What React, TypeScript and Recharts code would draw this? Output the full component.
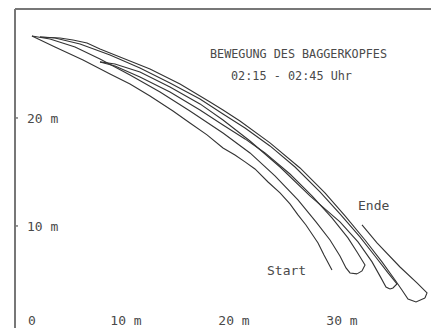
import { LineChart, Line, XAxis, YAxis } from "recharts";

// Bahn des Baggerkopfes, in Metern (x, y), Reihenfolge wie gefahren
const strandStart: [number, number][] = [
  [29.35, 5.93], [28.61, 7.31], [28.06, 8.43], [26.94, 10.09], [26.2, 11.02],
  [25.46, 12.04], [24.54, 13.06], [23.43, 14.07], [22.22, 15.28], [21.3, 15.93],
  [20.37, 16.57], [19.26, 17.22], [17.78, 18.43], [16.2, 19.54], [14.63, 20.65],
  [12.5, 22.04], [10.65, 23.15], [8.8, 24.07], [6.3, 25.37], [3.7, 26.57], [1.57, 27.59],
];
const strandDown1: [number, number][] = [
  [1.57, 27.59], [3.24, 27.31], [5.56, 26.57], [7.87, 25.46], [10.65, 23.98],
  [13.43, 22.41], [16.2, 20.65], [19.26, 18.61], [21.76, 16.76], [24.07, 14.63],
  [26.2, 12.41], [27.87, 10.37], [29.17, 8.7], [30.09, 7.22], [30.65, 6.11],
  [31.02, 5.65], [31.67, 5.56],
];
const strandUp1: [number, number][] = [
  [31.67, 5.56], [32.13, 5.83], [32.41, 6.39], [31.67, 7.59], [30.83, 8.89],
  [29.35, 10.74], [27.5, 12.78], [25.46, 14.81], [23.15, 16.76], [21.3, 18.06],
  [19.26, 19.35], [17.13, 20.74], [14.35, 22.41], [11.57, 23.8], [9.26, 24.81],
  [7.87, 25.19],
];
const strandDown2: [number, number][] = [
  [7.87, 25.19], [9.26, 25.0], [11.57, 24.26], [14.35, 22.87], [17.13, 21.3],
  [19.26, 19.81], [21.76, 17.87], [24.54, 15.46], [27.31, 12.78], [30.09, 10.37],
  [31.76, 8.52], [33.06, 6.67], [33.89, 5.19], [34.35, 4.35], [34.72, 4.17],
];
const strandUp2: [number, number][] = [
  [34.72, 4.17], [35.0, 4.26], [35.37, 4.63], [34.54, 5.65], [33.33, 7.22],
  [31.94, 8.98], [30.09, 11.11], [28.24, 13.15], [25.93, 15.46], [23.61, 17.41],
  [21.3, 19.07], [19.26, 20.37], [17.13, 21.76], [14.35, 23.24], [11.57, 24.63],
  [8.8, 25.83], [6.02, 26.85], [3.7, 27.41], [2.31, 27.5],
];
const strandDown3: [number, number][] = [
  [2.31, 27.5], [4.17, 27.41], [5.37, 27.22], [6.67, 26.94], [7.87, 26.39],
  [9.72, 25.65], [12.5, 24.54], [15.28, 23.15], [18.06, 21.48], [19.26, 20.74],
  [20.83, 19.72], [23.61, 17.69], [26.39, 15.37], [28.7, 13.06], [30.56, 10.93],
  [32.41, 8.7], [33.98, 6.67], [35.19, 5.0], [35.83, 4.07], [36.39, 3.24],
  [37.13, 2.96], [37.96, 3.33],
];
const strandEnde: [number, number][] = [
  [37.96, 3.33], [38.15, 3.8], [37.22, 4.72], [35.65, 6.2], [33.52, 8.43], [32.13, 10.09],
];

const strands = [strandStart, strandDown1, strandUp1, strandDown2, strandUp2, strandDown3, strandEnde];

const xTicks = [0, 10, 20, 30];
const yTicks = [10, 20];

const titleLines = ["BEWEGUNG DES BAGGERKOPFES", "02:15 - 02:45 Uhr"];

const W = 431;
const H = 329;
const FONT = "'DejaVu Sans Mono', monospace";
const TEXT = "#4a4a4a";
const FRAME = "#777";

function XTick(props: any) {
  const { x, y, payload } = props;
  const v = payload.value as number;
  const label = v === 0 ? "0" : `${v} m`;
  return (
    <text
      x={v === 0 ? x + 13 : x + 3}
      y={y - 3}
      textAnchor={v === 0 ? "start" : "middle"}
      fill={TEXT}
      fontSize={13}
      fontFamily={FONT}
    >
      {label}
    </text>
  );
}

function YTick(props: any) {
  const { x, y, payload } = props;
  return (
    <g>
      <line x1={x} x2={x + 3} y1={y} y2={y} stroke={FRAME} strokeWidth={1.5} />
      <text x={x + 12} y={y + 5} fill={TEXT} fontSize={13} fontFamily={FONT}>
        {`${payload.value} m`}
      </text>
    </g>
  );
}

export default function App() {
  return (
    <div style={{ position: "absolute", left: 0, top: 0, width: W, height: H, background: "#fff" }}>
      <LineChart width={W} height={H} margin={{ top: 0, right: 0, bottom: 0, left: 0 }}>
        <XAxis
          type="number"
          dataKey="x"
          domain={[0, 38.52]}
          ticks={xTicks}
          height={1}
          axisLine={false}
          tickLine={false}
          tickSize={0}
          tickMargin={0}
          tick={<XTick />}
          interval={0}
          allowDataOverflow
        />
        <XAxis
          xAxisId="top"
          orientation="top"
          type="number"
          domain={[0, 38.52]}
          height={9}
          tick={false}
          tickLine={false}
          axisLine={{ stroke: FRAME, strokeWidth: 2 }}
        />
        <YAxis
          type="number"
          domain={[0.55, 30.09]}
          ticks={yTicks}
          width={15}
          tickSize={0}
          tickMargin={0}
          tick={<YTick />}
          tickLine={false}
          interval={0}
          axisLine={{ stroke: FRAME, strokeWidth: 2 }}
          allowDataOverflow
        />
        {strands.map((s, i) => (
          <Line
            key={i}
            data={s.map(([x, y]) => ({ x, y }))}
            dataKey="y"
            type="linear"
            stroke="#333"
            strokeWidth={1.1}
            dot={false}
            activeDot={false}
            isAnimationActive={false}
          />
        ))}
      </LineChart>
      <svg
        width={W}
        height={H}
        style={{ position: "absolute", left: 0, top: 0, pointerEvents: "none" }}
      >
        <g fill={TEXT} fontSize={13} fontFamily={FONT}>
          <text x={210} y={58} textLength={177} lengthAdjust="spacingAndGlyphs">
            {titleLines[0]}
          </text>
          <text x={231} y={80} textLength={121} lengthAdjust="spacingAndGlyphs">
            {titleLines[1]}
          </text>
          <text x={358} y={210}>Ende</text>
          <text x={267} y={275}>Start</text>
        </g>
      </svg>
    </div>
  );
}
